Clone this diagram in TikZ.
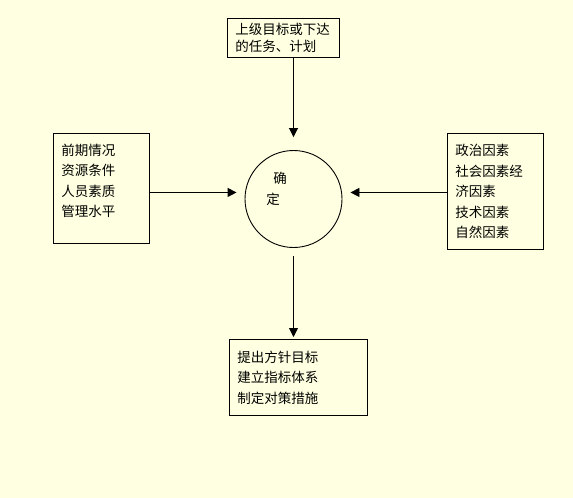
\documentclass[tikz,border=0pt]{standalone}
\usepackage{fontspec}
\newfontfamily\cjk{Noto Sans CJK SC}
\usetikzlibrary{calc,positioning,arrows.meta}
\definecolor{paper}{RGB}{255,255,225}
\tikzset{
    factor box/.style={
        draw,line width=0.9pt,
        anchor=north west,
        inner xsep=8pt,inner ysep=0pt,
        align=left,
        font=\cjk\fontsize{13.5}{20.5}\selectfont
    },
    flow/.style={line width=0.9pt,-{Triangle[length=9pt,width=9pt]}}
}
\begin{document}
\begin{tikzpicture}[x=1pt,y=-1pt]
\fill[paper] (0,0) rectangle (573,498);
\node[factor box,minimum width=112pt,minimum height=39pt,text width=96pt,font=\cjk\fontsize{13.5}{17}\selectfont] (mubiao) at (227,18) {上级目标或下达\\的任务、计划};
\node[factor box,minimum width=96pt,minimum height=110pt,text width=80pt,text depth=78pt] (qiqing) at (53,133) {前期情况\\资源条件\\人员素质\\管理水平};
\node[factor box,minimum width=96pt,minimum height=116pt,text width=80pt] (yinsu) at (447,133) {政治因素\\社会因素经\\济因素\\技术因素\\自然因素};
\node[factor box,minimum width=138pt,minimum height=76pt,text width=122pt] (fangzhen) at (229,339) {提出方针目标\\建立指标体系\\制定对策措施};
\node[draw,circle,line width=0.9pt,minimum size=97pt,inner sep=0pt] (queding) at (293.5,199) {};
\node[font=\cjk\fontsize{13.5}{21}\selectfont,align=left,inner sep=0pt] (quedingzi) at (276.5,189) {\hspace*{7pt}确\\定};
\draw[flow,shorten >=13pt] (mubiao.south -| queding.north) -- (queding.north);
\draw[flow,shorten >=8pt] ([yshift=-4pt]qiqing.east) -- ([yshift=-4pt]qiqing.east -| queding.west);
\draw[flow,shorten >=8pt] ([yshift=-1pt]yinsu.west) -- ([yshift=-1pt]yinsu.west -| queding.east);
\draw[flow,shorten <=8pt,shorten >=2pt] (queding.south) -- (queding.south |- fangzhen.north);
\end{tikzpicture}
\end{document}
